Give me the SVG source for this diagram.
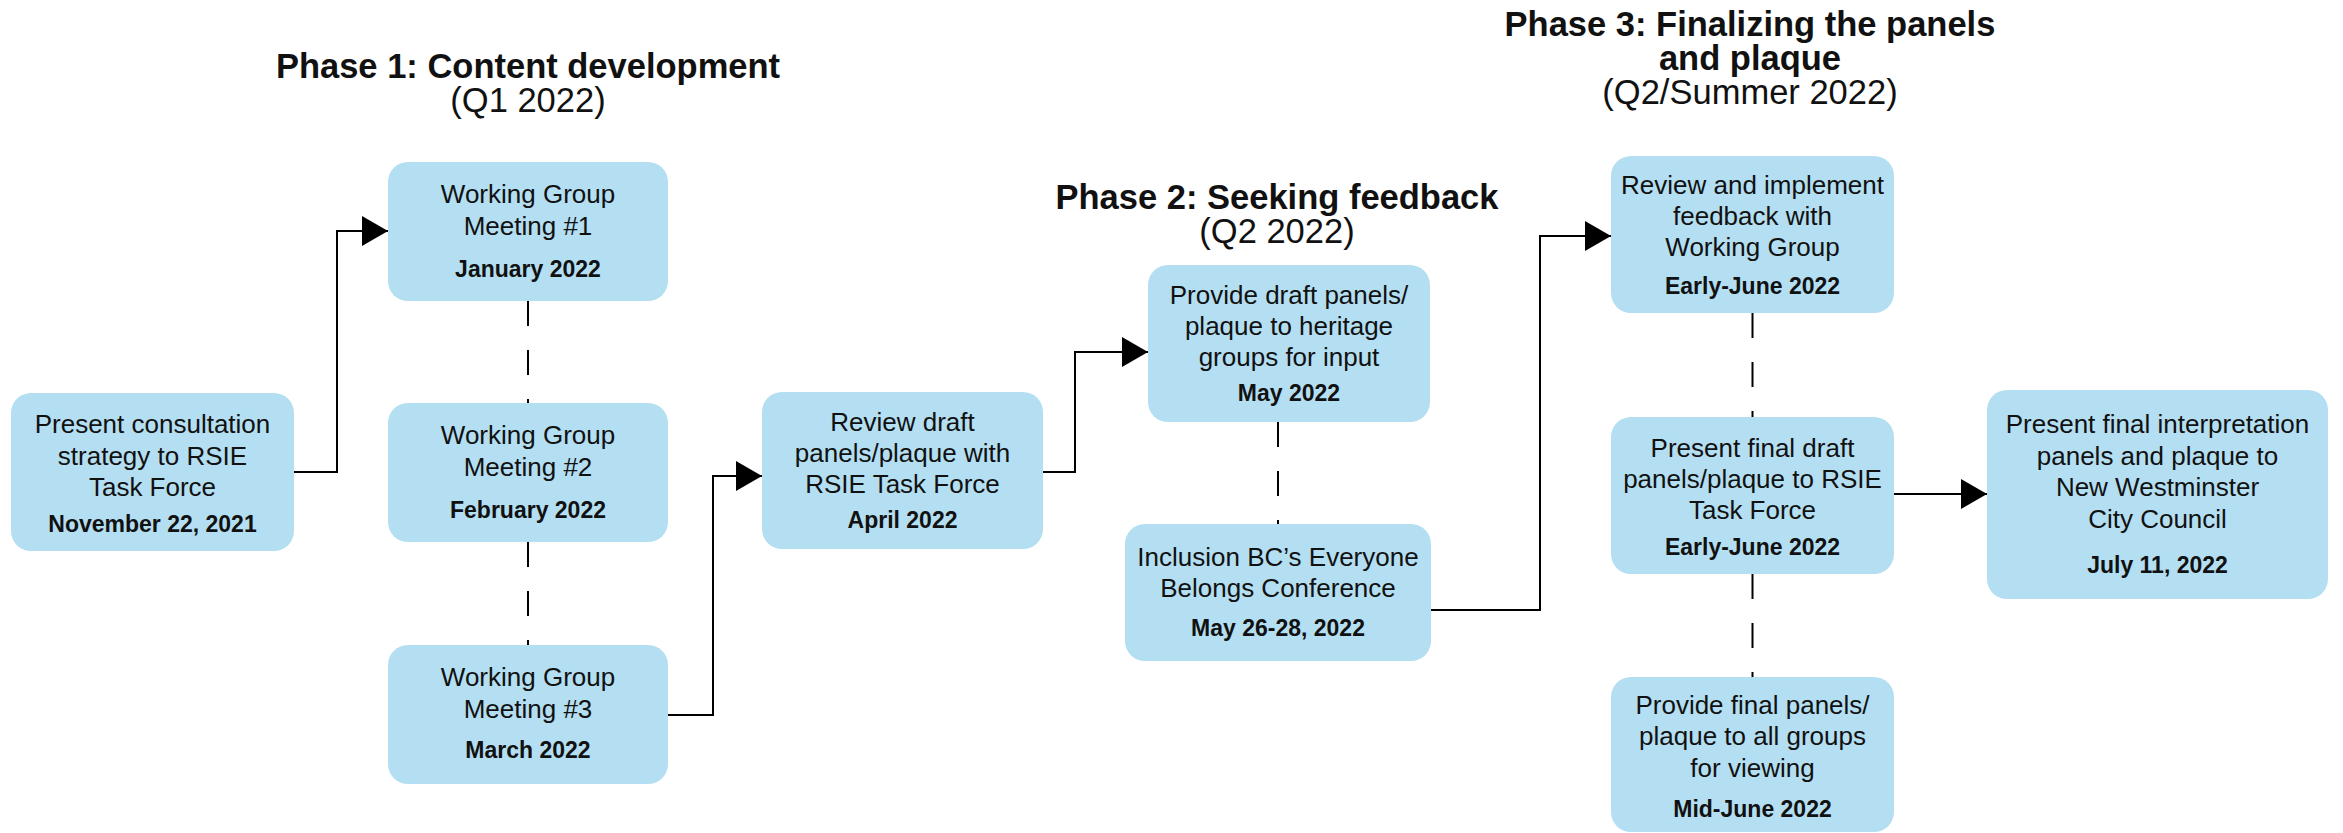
<svg xmlns="http://www.w3.org/2000/svg" width="2343" height="833" viewBox="0 0 2343 833">
<style>
text{font-family:"Liberation Sans",Arial,sans-serif;fill:#111;text-anchor:middle}
.t{font-size:26px}
.d{font-size:23px;font-weight:bold}
.h{font-size:34.5px;font-weight:bold}
.hs{font-size:34.5px}
.box{fill:#b4dff2}
.con{fill:none;stroke:#000;stroke-width:2}
.dash{fill:none;stroke:#000;stroke-width:2;stroke-dasharray:25 24}
</style>
<defs>
<marker id="arr" markerUnits="userSpaceOnUse" markerWidth="27" markerHeight="31" refX="26" refY="15" orient="auto">
<path d="M0,0 L26,15 L0,30 Z" fill="#000"/>
</marker>
</defs>
<rect width="2343" height="833" fill="#fff"/>
<g id="titles">
<text class="h" x="528" y="78">Phase 1: Content development</text>
<text class="hs" x="528" y="112">(Q1 2022)</text>
<text class="h" x="1277" y="209">Phase 2: Seeking feedback</text>
<text class="hs" x="1277" y="243">(Q2 2022)</text>
<text class="h" x="1750" y="36">Phase 3: Finalizing the panels</text>
<text class="h" x="1750" y="70">and plaque</text>
<text class="hs" x="1750" y="104">(Q2/Summer 2022)</text>
</g>
<g id="connectors">
<path class="con" d="M294,472 H337 V231 H388" marker-end="url(#arr)"/>
<path class="con" d="M668,715 H713 V476 H762" marker-end="url(#arr)"/>
<path class="con" d="M1043,472 H1075 V352 H1148" marker-end="url(#arr)"/>
<path class="con" d="M1431,610 H1540 V236 H1611" marker-end="url(#arr)"/>
<path class="con" d="M1894,494 H1987" marker-end="url(#arr)"/>
<path class="dash" d="M528,301 V403"/>
<path class="dash" d="M528,542 V645"/>
<path class="dash" d="M1278,422 V524"/>
<path class="dash" d="M1752.5,313 V417"/>
<path class="dash" d="M1752.5,574 V677"/>
</g>
<g id="n-consultation">
<rect class="box" x="11" y="393" width="283" height="158" rx="20"/>
<text class="t" x="152.5" y="433">Present consultation</text>
<text class="t" x="152.5" y="465">strategy to RSIE</text>
<text class="t" x="152.5" y="496">Task Force</text>
<text class="d" x="152.5" y="532">November 22, 2021</text>
</g>
<g id="n-wg1">
<rect class="box" x="388" y="162" width="280" height="139" rx="20"/>
<text class="t" x="528" y="203">Working Group</text>
<text class="t" x="528" y="235">Meeting #1</text>
<text class="d" x="528" y="277">January 2022</text>
</g>
<g id="n-wg2">
<rect class="box" x="388" y="403" width="280" height="139" rx="20"/>
<text class="t" x="528" y="444">Working Group</text>
<text class="t" x="528" y="476">Meeting #2</text>
<text class="d" x="528" y="518">February 2022</text>
</g>
<g id="n-wg3">
<rect class="box" x="388" y="645" width="280" height="139" rx="20"/>
<text class="t" x="528" y="686">Working Group</text>
<text class="t" x="528" y="718">Meeting #3</text>
<text class="d" x="528" y="758">March 2022</text>
</g>
<g id="n-review-draft">
<rect class="box" x="762" y="392" width="281" height="157" rx="20"/>
<text class="t" x="902.5" y="431">Review draft</text>
<text class="t" x="902.5" y="462">panels/plaque with</text>
<text class="t" x="902.5" y="493">RSIE Task Force</text>
<text class="d" x="902.5" y="528">April 2022</text>
</g>
<g id="n-provide-draft">
<rect class="box" x="1148" y="265" width="282" height="157" rx="20"/>
<text class="t" x="1289" y="304">Provide draft panels/</text>
<text class="t" x="1289" y="335">plaque to heritage</text>
<text class="t" x="1289" y="366">groups for input</text>
<text class="d" x="1289" y="401">May 2022</text>
</g>
<g id="n-inclusion">
<rect class="box" x="1125" y="524" width="306" height="137" rx="20"/>
<text class="t" x="1278" y="566">Inclusion BC’s Everyone</text>
<text class="t" x="1278" y="597">Belongs Conference</text>
<text class="d" x="1278" y="636">May 26-28, 2022</text>
</g>
<g id="n-implement">
<rect class="box" x="1611" y="156" width="283" height="157" rx="20"/>
<text class="t" x="1752.5" y="194">Review and implement</text>
<text class="t" x="1752.5" y="225">feedback with</text>
<text class="t" x="1752.5" y="256">Working Group</text>
<text class="d" x="1752.5" y="294">Early-June 2022</text>
</g>
<g id="n-final-draft">
<rect class="box" x="1611" y="417" width="283" height="157" rx="20"/>
<text class="t" x="1752.5" y="457">Present final draft</text>
<text class="t" x="1752.5" y="488">panels/plaque to RSIE</text>
<text class="t" x="1752.5" y="519">Task Force</text>
<text class="d" x="1752.5" y="555">Early-June 2022</text>
</g>
<g id="n-final-panels">
<rect class="box" x="1611" y="677" width="283" height="155" rx="20"/>
<text class="t" x="1752.5" y="714">Provide final panels/</text>
<text class="t" x="1752.5" y="745">plaque to all groups</text>
<text class="t" x="1752.5" y="777">for viewing</text>
<text class="d" x="1752.5" y="817">Mid-June 2022</text>
</g>
<g id="n-council">
<rect class="box" x="1987" y="390" width="341" height="209" rx="20"/>
<text class="t" x="2157.5" y="433">Present final interpretation</text>
<text class="t" x="2157.5" y="465">panels and plaque to</text>
<text class="t" x="2157.5" y="496">New Westminster</text>
<text class="t" x="2157.5" y="528">City Council</text>
<text class="d" x="2157.5" y="573">July 11, 2022</text>
</g>
</svg>
